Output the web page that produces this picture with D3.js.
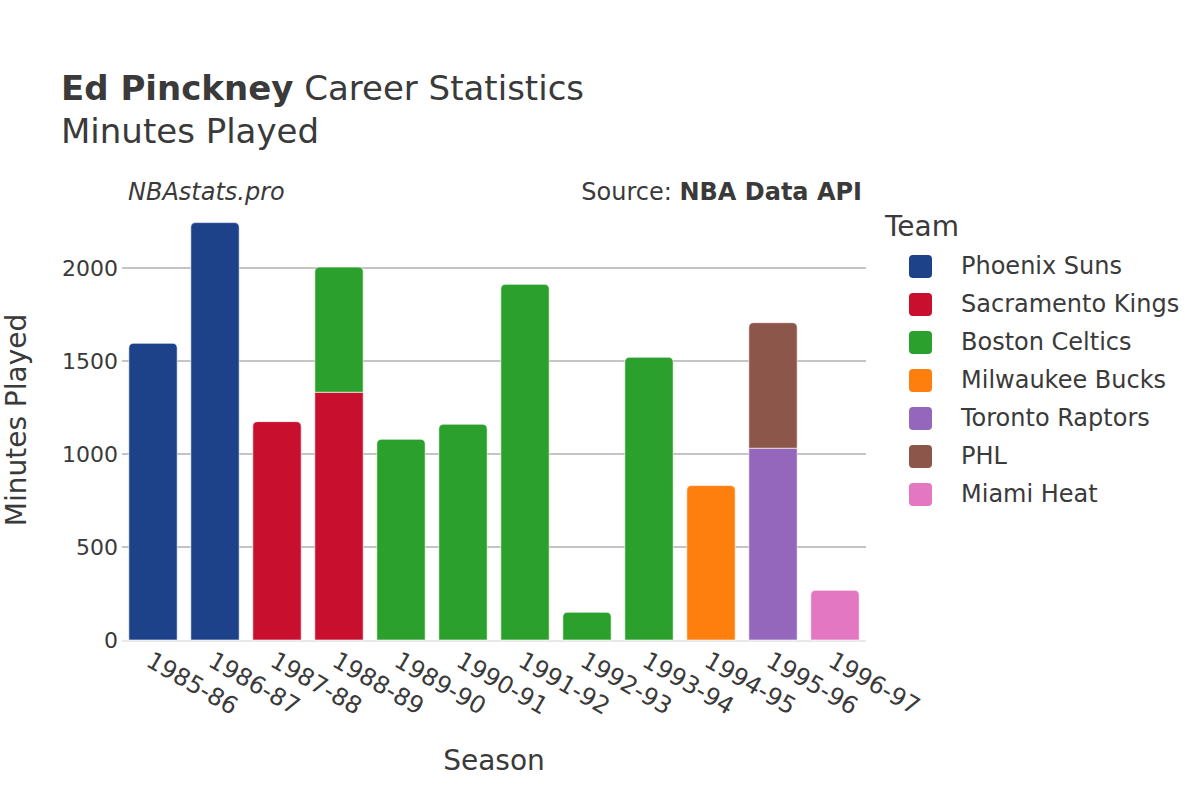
<!DOCTYPE html>
<html>
<head>
<meta charset="utf-8">
<script src="https://cdn.jsdelivr.net/npm/d3@7"></script>
<style>
  body { margin: 0; background: #fff; }
  text { font-family: "DejaVu Sans", sans-serif; fill: #3a3a3a; }
</style>
</head>
<body>
<div class="chart"></div>
<script>
var width = 1200, height = 800;

var seasons = ['1985-86', '1986-87', '1987-88', '1988-89', '1989-90', '1990-91',
	'1991-92', '1992-93', '1993-94', '1994-95', '1995-96', '1996-97'];
var teams = ['Phoenix Suns', 'Sacramento Kings', 'Boston Celtics', 'Milwaukee Bucks',
	'Toronto Raptors', 'PHL', 'Miami Heat'];
var teamColors = ['#1d428a', '#c8102e', '#2ca02c', '#ff7f0e', '#9467bd', '#8c564b', '#e377c2'];

var phoenix    = [1595, 2244, 0, 0, 0, 0, 0, 0, 0, 0, 0, 0];
var sacramento = [0, 0, 1174, 1332, 0, 0, 0, 0, 0, 0, 0, 0];
var boston     = [0, 0, 0, 673, 1079, 1160, 1912, 149, 1520, 0, 0, 0];
var milwaukee  = [0, 0, 0, 0, 0, 0, 0, 0, 0, 830, 0, 0];
var toronto    = [0, 0, 0, 0, 0, 0, 0, 0, 0, 0, 1031, 0];
var phl        = [0, 0, 0, 0, 0, 0, 0, 0, 0, 0, 675, 0];
var miami      = [0, 0, 0, 0, 0, 0, 0, 0, 0, 0, 0, 267];
var yTicks = [0, 500, 1000, 1500, 2000];

var series = [phoenix, sacramento, boston, milwaukee, toronto, phl, miami];

var rows = seasons.map(function(s, i) {
	var r = { season: s };
	teams.forEach(function(t, j) { r[t] = series[j][i]; });
	return r;
});

var margin = { left: 122, right: 334, top: 222, bottom: 160 };

var svg = d3.select('.chart')
	.append('svg')
	.attr('width', width)
	.attr('height', height);

var x = d3.scaleBand()
	.domain(seasons)
	.range([margin.left, width - margin.right])
	.paddingInner(0.22)
	.paddingOuter(0.11);

var y = d3.scaleLinear()
	.domain([0, 2000])
	.range([640, 268]);

var color = d3.scaleOrdinal().domain(teams).range(teamColors);

// grid
svg.append('g')
	.selectAll('line')
	.data(yTicks.filter(function(d) { return d > 0; }))
	.enter().append('line')
	.attr('x1', margin.left)
	.attr('x2', width - margin.right)
	.attr('y1', function(d) { return y(d); })
	.attr('y2', function(d) { return y(d); })
	.attr('stroke', '#8a8a8a')
	.attr('stroke-width', 1);

svg.append('line')
	.attr('x1', margin.left)
	.attr('x2', width - margin.right)
	.attr('y1', y(0) + 1)
	.attr('y2', y(0) + 1)
	.attr('stroke', '#e8e8e8')
	.attr('stroke-width', 2);

var stacked = d3.stack().keys(teams)(rows);

// topmost segment for each season gets rounded corners
var topKey = rows.map(function(r) {
	var k = null;
	teams.forEach(function(t) { if (r[t] > 0) k = t; });
	return k;
});

function barPath(x0, y0, w, y1, rounded) {
	var r = rounded ? Math.min(5, (y0 - y1)) : 0;
	return 'M' + x0 + ',' + y0 +
		'V' + (y1 + r) +
		(r ? 'Q' + x0 + ',' + y1 + ' ' + (x0 + r) + ',' + y1 : '') +
		'H' + (x0 + w - r) +
		(r ? 'Q' + (x0 + w) + ',' + y1 + ' ' + (x0 + w) + ',' + (y1 + r) : '') +
		'V' + y0 + 'Z';
}

svg.append('g')
	.selectAll('g')
	.data(stacked)
	.enter().append('g')
	.attr('fill', function(d) { return color(d.key); })
	.each(function(layer) {
		d3.select(this).selectAll('path')
			.data(layer.filter(function(d) { return d[1] - d[0] > 0; }))
			.enter().append('path')
			.attr('d', function(d) {
				var i = seasons.indexOf(d.data.season);
				return barPath(x(d.data.season), y(d[0]), x.bandwidth(), y(d[1]), topKey[i] === layer.key);
			})
			.attr('stroke', '#ffffff')
			.attr('stroke-opacity', 0.6)
			.attr('stroke-width', 1);
	});

// y axis labels
svg.append('g')
	.selectAll('text')
	.data(yTicks)
	.enter().append('text')
	.attr('x', 118)
	.attr('y', function(d) { return y(d); })
	.attr('dy', '0.35em')
	.attr('text-anchor', 'end')
	.style('font-size', '22px')
	.text(function(d) { return d; });

// x axis labels
svg.append('g')
	.selectAll('text')
	.data(seasons)
	.enter().append('text')
	.attr('transform', function(d) {
		return 'translate(' + (x(d) + x.bandwidth() / 2 - 4) + ',' + 658 + ') rotate(30)';
	})
	.attr('dy', '0.35em')
	.style('font-size', '24px')
	.text(function(d) { return d; });

svg.append('text')
	.attr('x', 494)
	.attr('y', 770)
	.attr('text-anchor', 'middle')
	.style('font-size', '28px')
	.text('Season');

svg.append('text')
	.attr('transform', 'translate(26,420) rotate(-90)')
	.attr('text-anchor', 'middle')
	.style('font-size', '28px')
	.text('Minutes Played');

// titles
var title = svg.append('text')
	.attr('x', 61)
	.attr('y', 100)
	.style('font-size', '34px');
title.append('tspan').style('font-weight', 'bold').text('Ed Pinckney');
title.append('tspan').text(' Career Statistics');

svg.append('text')
	.attr('x', 61)
	.attr('y', 143)
	.style('font-size', '34px')
	.text('Minutes Played');

svg.append('text')
	.attr('x', 128)
	.attr('y', 200)
	.style('font-size', '24px')
	.style('font-style', 'italic')
	.text('NBAstats.pro');

var src = svg.append('text')
	.attr('x', 862)
	.attr('y', 200)
	.attr('text-anchor', 'end')
	.style('font-size', '24px');
src.append('tspan').text('Source: ');
src.append('tspan').style('font-weight', 'bold').text('NBA Data API');

// legend
svg.append('text')
	.attr('x', 885)
	.attr('y', 236)
	.style('font-size', '28px')
	.text('Team');

var legend = svg.append('g')
	.selectAll('g')
	.data(teams)
	.enter().append('g')
	.attr('transform', function(d, i) { return 'translate(909,' + (266 + i * 38) + ')'; });

legend.append('rect')
	.attr('x', 0)
	.attr('y', -11)
	.attr('width', 23)
	.attr('height', 23)
	.attr('rx', 4)
	.attr('fill', function(d) { return color(d); });

legend.append('text')
	.attr('x', 52)
	.attr('y', 0)
	.attr('dy', '0.35em')
	.style('font-size', '24px')
	.text(function(d) { return d; });
</script>
</body>
</html>
